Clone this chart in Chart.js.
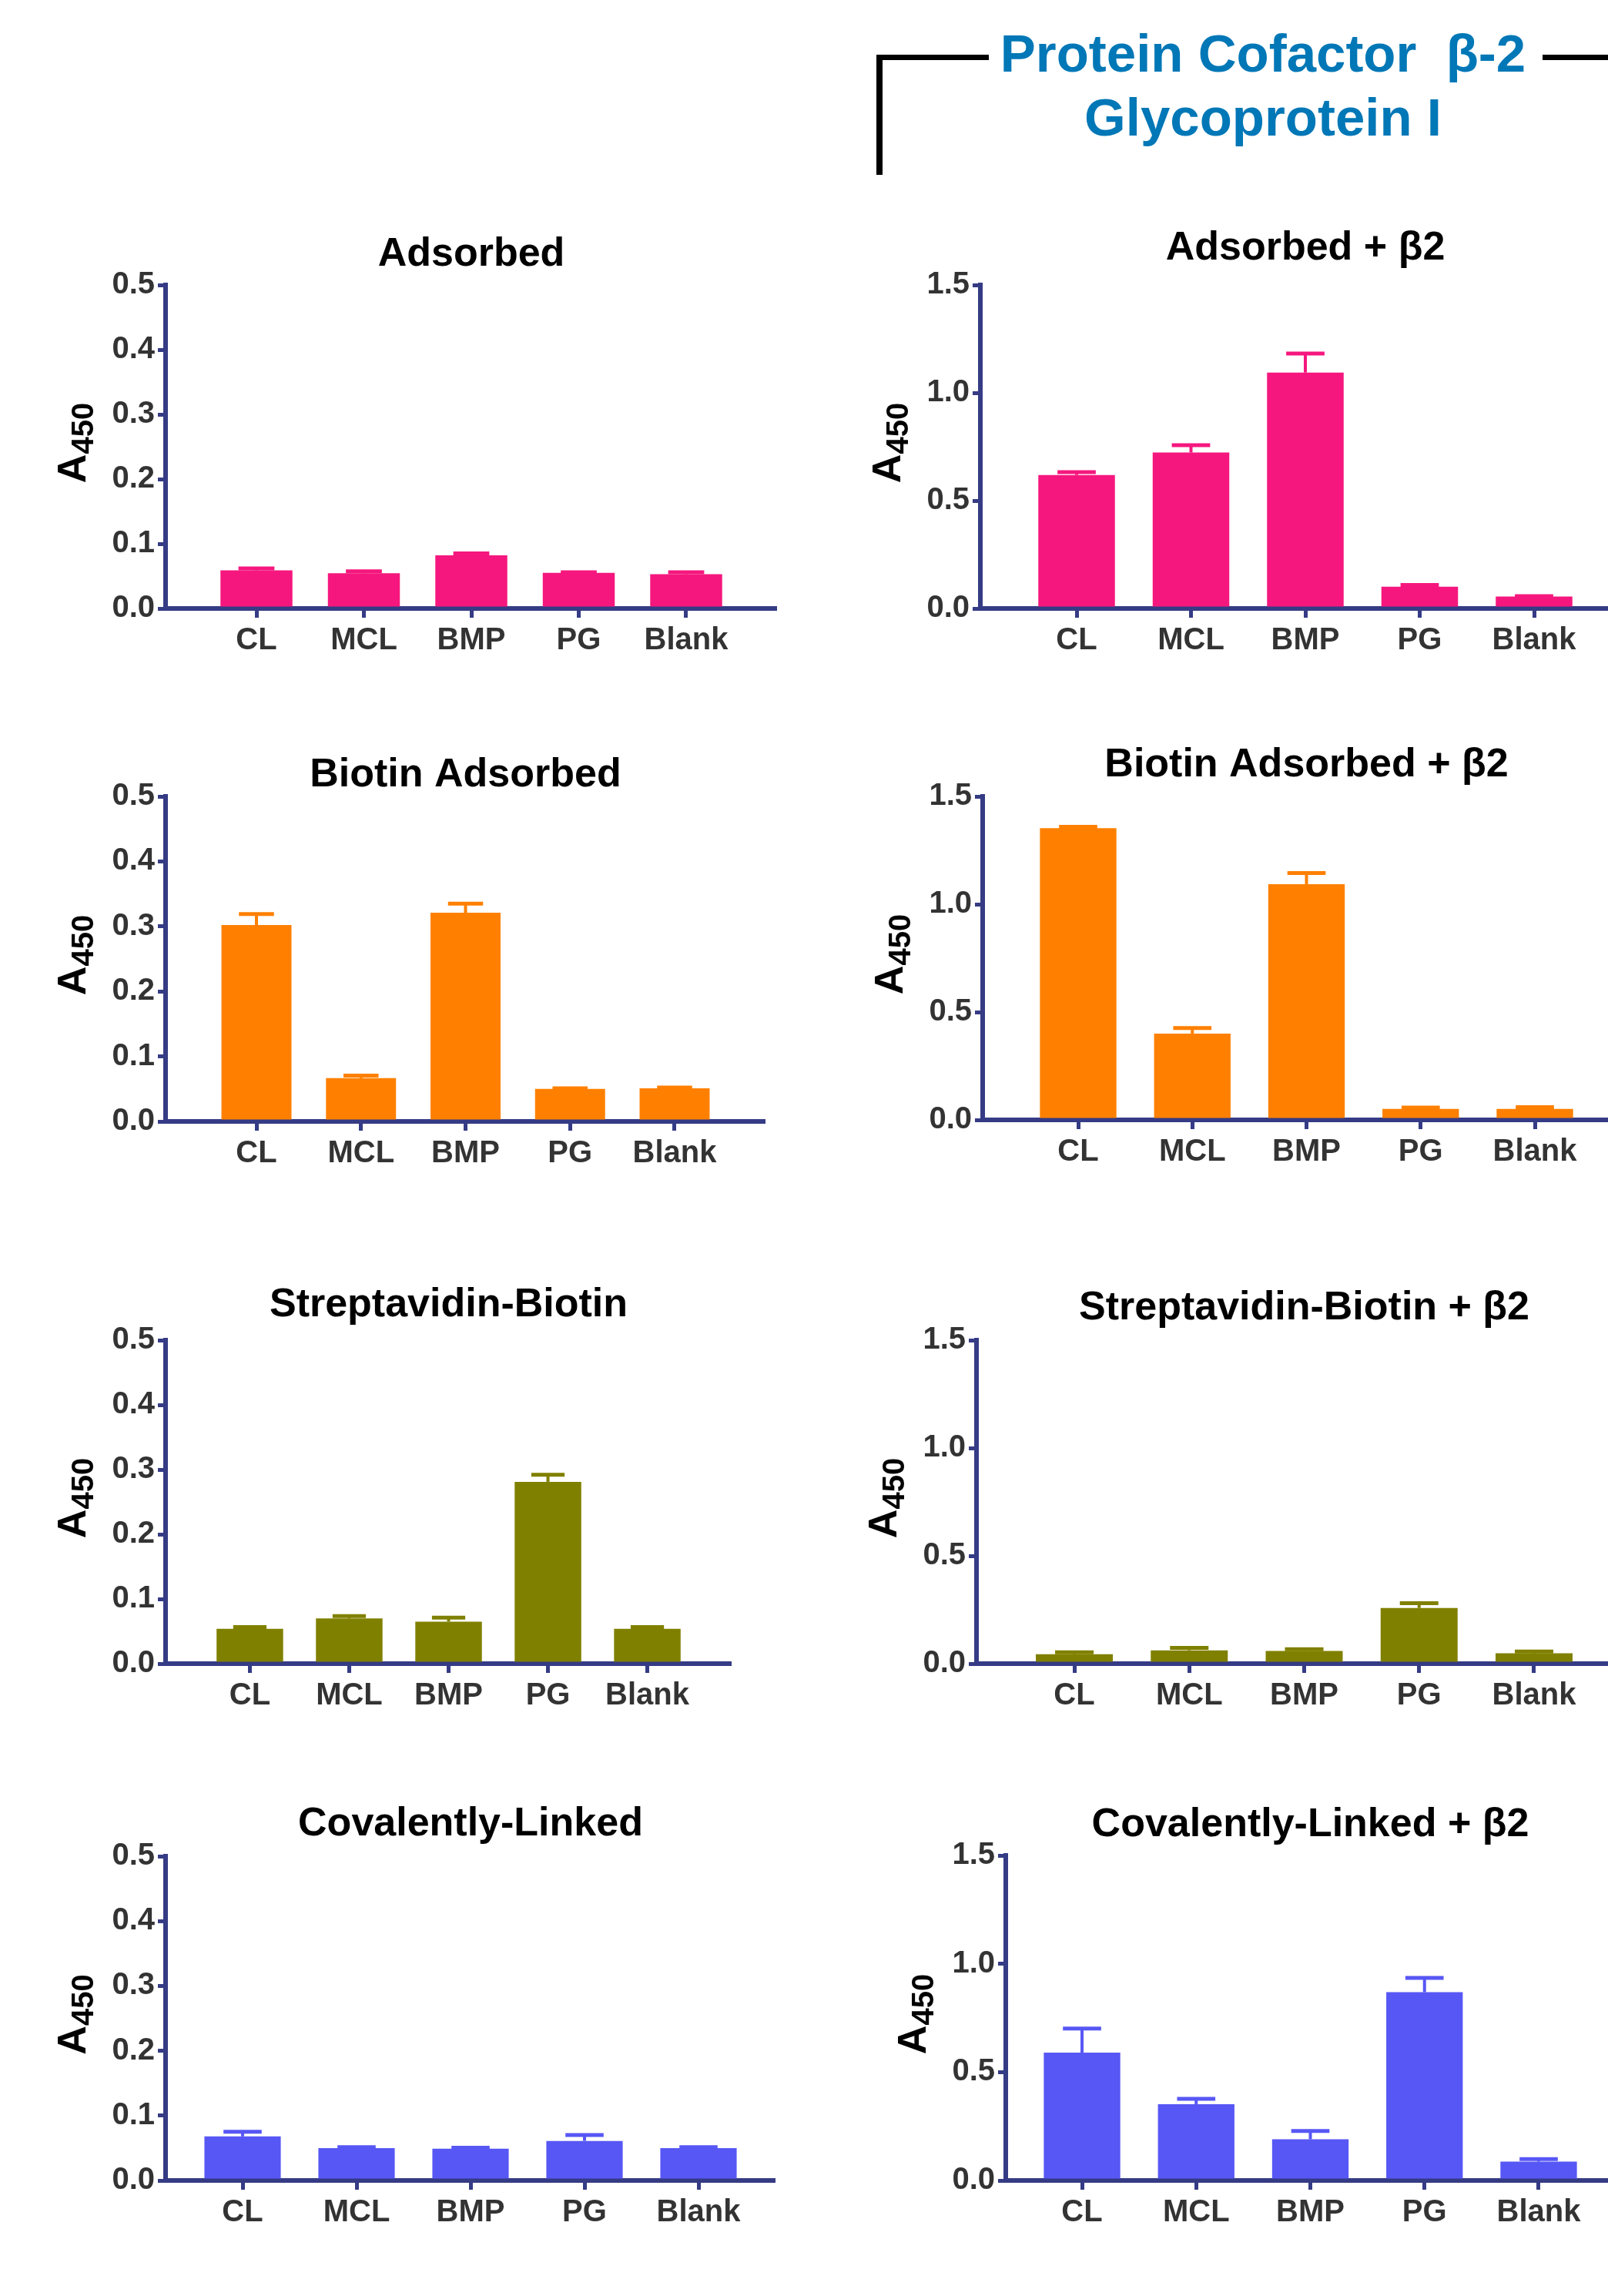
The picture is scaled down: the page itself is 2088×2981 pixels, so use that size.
<!DOCTYPE html>
<html>
<head>
<meta charset="utf-8">
<script src="https://cdn.jsdelivr.net/npm/chart.js@4.4.1/dist/chart.umd.min.js"></script>
<style>
  html, body { margin: 0; padding: 0; background: #fff; overflow: hidden; }
  body { width: 2088px; height: 2981px; position: relative; }
  #header {
    position: absolute; left: 1240px; top: 28px; width: 800px;
    text-align: center; white-space: pre; color: #0077b6;
    font: bold 69px "Liberation Sans", Arial, sans-serif; line-height: 83px;
  }
  .bracket { position: absolute; background: #000; }
</style>
</head>
<body>
<div class="bracket" style="left:1138px;top:71px;width:146px;height:7px"></div>
<div class="bracket" style="left:1138px;top:71px;width:8px;height:156px"></div>
<div class="bracket" style="left:2003px;top:71px;width:85px;height:7px"></div>
<div id="header">Protein Cofactor  β-2
Glycoprotein I</div>

<script>
const categories = ["CL", "MCL", "BMP", "PG", "Blank"];

// mean A450 and upper error (SEM) per surface
const adsorbed = [0.059, 0.0545, 0.082, 0.055, 0.053];
const adsorbedSem = [0.003, 0.003, 0.003, 0.001, 0.003];
const adsorbedB2 = [0.619, 0.723, 1.094, 0.101, 0.055];
const adsorbedB2Sem = [0.013, 0.034, 0.088, 0.008, 0.002];

const biotin = [0.302, 0.0665, 0.321, 0.050, 0.051];
const biotinSem = [0.017, 0.004, 0.014, 0.001, 0.001];
const biotinB2 = [1.353, 0.400, 1.093, 0.051, 0.051];
const biotinB2Sem = [0.006, 0.026, 0.052, 0.006, 0.008];

const strept = [0.054, 0.070, 0.065, 0.281, 0.054];
const streptSem = [0.0025, 0.0035, 0.006, 0.011, 0.0025];
const streptB2 = [0.044, 0.062, 0.059, 0.258, 0.048];
const streptB2Sem = [0.009, 0.011, 0.008, 0.022, 0.008];

const covalent = [0.068, 0.050, 0.049, 0.061, 0.050];
const covalentSem = [0.007, 0.0015, 0.0015, 0.009, 0.0015];
const covalentB2 = [0.590, 0.352, 0.190, 0.869, 0.087];
const covalentB2Sem = [0.111, 0.025, 0.038, 0.066, 0.012];

const pink = "#f5177e", orange = "#ff8000", olive = "#808000", blue = "#5757f5";
const axisColor = "#353b84";
const family = '"Liberation Sans", Arial, sans-serif';

const panels = [
  { title: "Adsorbed", mean: adsorbed, sem: adsorbedSem, color: pink, yMax: 0.5, yStep: 0.1,
    axisX: 215, offset: 118, spacing: 139.5, titleY: 331, top: 370, bottom: 790 },
  { title: "Adsorbed + β2", mean: adsorbedB2, sem: adsorbedB2Sem, color: pink, yMax: 1.5, yStep: 0.5,
    axisX: 1273, offset: 125, spacing: 148.5, titleY: 323, top: 370, bottom: 790 },
  { title: "Biotin Adsorbed", mean: biotin, sem: biotinSem, color: orange, yMax: 0.5, yStep: 0.1,
    axisX: 215, offset: 118, spacing: 135.75, titleY: 1007, top: 1034, bottom: 1456 },
  { title: "Biotin Adsorbed + β2", mean: biotinB2, sem: biotinB2Sem, color: orange, yMax: 1.5, yStep: 0.5,
    axisX: 1276, offset: 124, spacing: 148.25, titleY: 994, top: 1034, bottom: 1454 },
  { title: "Streptavidin-Biotin", mean: strept, sem: streptSem, color: olive, yMax: 0.5, yStep: 0.1,
    axisX: 215, offset: 109.5, spacing: 129.1, titleY: 1695, top: 1740, bottom: 2160 },
  { title: "Streptavidin-Biotin + β2", mean: streptB2, sem: streptB2Sem, color: olive, yMax: 1.5, yStep: 0.5,
    axisX: 1268, offset: 127, spacing: 149.2, titleY: 1699, top: 1740, bottom: 2160 },
  { title: "Covalently-Linked", mean: covalent, sem: covalentSem, color: blue, yMax: 0.5, yStep: 0.1,
    axisX: 215, offset: 100, spacing: 148, titleY: 2369, top: 2410, bottom: 2831 },
  { title: "Covalently-Linked + β2", mean: covalentB2, sem: covalentB2Sem, color: blue, yMax: 1.5, yStep: 0.5,
    axisX: 1306, offset: 99, spacing: 148.2, titleY: 2370, top: 2409, bottom: 2831 }
];

const Y_W = 160, X_H = 90, PAD_T = 10, TITLE_SIZE = 52;

// upper-only error bars, like the original
function errorBars(p) {
  return {
    id: "errorBars",
    afterDatasetsDraw(chart) {
      const ctx = chart.ctx, y = chart.scales.y;
      ctx.save();
      ctx.strokeStyle = p.color;
      chart.getDatasetMeta(0).data.forEach((bar, i) => {
        const top = y.getPixelForValue(p.mean[i]);
        const cap = y.getPixelForValue(p.mean[i] + p.sem[i]);
        ctx.lineWidth = 4;
        ctx.beginPath();
        ctx.moveTo(bar.x, top);
        ctx.lineTo(bar.x, cap);
        ctx.stroke();
        ctx.lineWidth = 5;
        ctx.beginPath();
        ctx.moveTo(bar.x - bar.width / 4, cap);
        ctx.lineTo(bar.x + bar.width / 4, cap);
        ctx.stroke();
      });
      ctx.restore();
    }
  };
}

// rotated "A" with subscript "450"
const axisLabel = {
  id: "axisLabel",
  afterDraw(chart) {
    const ctx = chart.ctx, area = chart.chartArea;
    const x = area.left - 104, yc = (area.top + area.bottom) / 2 - 5;
    ctx.save();
    ctx.translate(x, yc);
    ctx.rotate(-Math.PI / 2);
    ctx.fillStyle = "#000";
    ctx.textBaseline = "alphabetic";
    ctx.font = "bold 52px " + family;
    const wA = ctx.measureText("A").width;
    ctx.font = "bold 40px " + family;
    const wS = ctx.measureText("450").width;
    const start = -(wA + wS) / 2;
    ctx.font = "bold 52px " + family;
    ctx.fillText("A", start, 0);
    ctx.font = "bold 40px " + family;
    ctx.fillText("450", start + wA, 10);
    ctx.restore();
  }
};

panels.forEach(p => {
  const canvas = document.createElement("canvas");
  const areaW = 4 * p.spacing + 2 * p.offset;
  const left = Math.round(p.axisX - Y_W);
  const topC = Math.round(p.titleY - TITLE_SIZE / 2 - PAD_T);
  const w = Math.round(Y_W + areaW);
  const h = Math.round(p.bottom + X_H - topC);
  canvas.width = w;
  canvas.height = h;
  canvas.style.cssText = `position:absolute;left:${left}px;top:${topC}px;width:${w}px;height:${h}px`;
  document.body.appendChild(canvas);

  const tickFont = { family, size: 40, weight: "bold" };

  new Chart(canvas, {
    type: "bar",
    data: {
      datasets: [{
        data: p.mean.map((v, i) => ({ x: i, y: v })),
        backgroundColor: p.color,
        barPercentage: 0.67,
        categoryPercentage: 1
      }]
    },
    options: {
      responsive: false,
      animation: false,
      devicePixelRatio: 1,
      layout: { padding: { top: PAD_T, left: 0, right: 0, bottom: 0 } },
      plugins: {
        legend: { display: false },
        tooltip: { enabled: false },
        title: {
          display: true,
          text: p.title,
          fullSize: false,
          color: "#000",
          font: { family, size: TITLE_SIZE, weight: "bold", lineHeight: 1 },
          padding: { top: 0, bottom: p.top - p.titleY - TITLE_SIZE / 2 }
        }
      },
      scales: {
        x: {
          type: "linear",
          bounds: "data",
          offset: false,
          z: 1,
          min: -p.offset / p.spacing,
          max: 4 + p.offset / p.spacing,
          afterBuildTicks: s => { s.ticks = categories.map((c, i) => ({ value: i })); },
          afterFit: s => { s.height = X_H; },
          ticks: {
            callback: v => categories[v],
            color: "#333",
            font: tickFont,
            padding: 6,
            maxRotation: 0,
            autoSkip: false
          },
          grid: { offset: false, drawOnChartArea: false, color: axisColor, lineWidth: 5, tickLength: 12 },
          border: { color: axisColor, width: 6 }
        },
        y: {
          min: 0,
          max: p.yMax,
          z: 1,
          afterFit: s => { s.width = Y_W; },
          ticks: {
            stepSize: p.yStep,
            callback: v => v.toFixed(1),
            color: "#333",
            font: tickFont,
            padding: 4
          },
          grid: { drawOnChartArea: false, color: axisColor, lineWidth: 5, tickLength: 10 },
          border: { color: axisColor, width: 6 }
        }
      }
    },
    plugins: [errorBars(p), axisLabel]
  });
});
</script>
</body>
</html>
